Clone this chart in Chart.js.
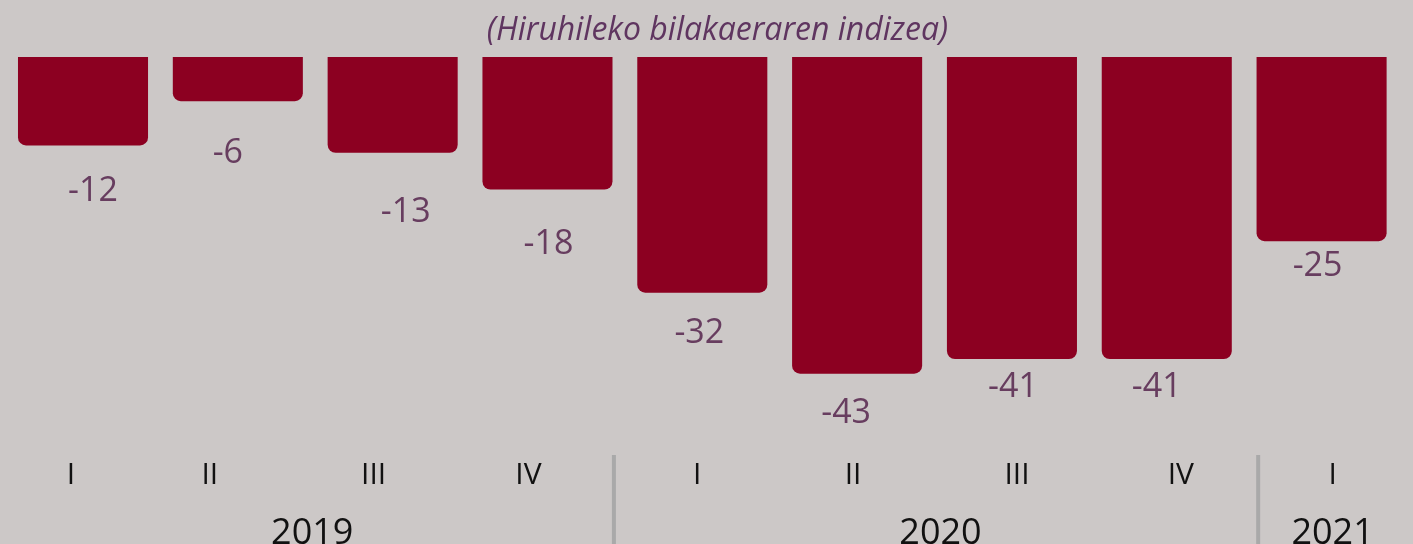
<!DOCTYPE html>
<html>
<head>
<meta charset="utf-8">
<script src="https://cdn.jsdelivr.net/npm/chart.js@4"></script>
<style>
  body { margin: 0; background: #ccc8c7; }
  #wrap { width: 1413px; height: 544px; position: relative; }
</style>
</head>
<body>
<div id="wrap"><canvas id="chart"></canvas></div>
<script>
// Data
const quarters = ['I', 'II', 'III', 'IV', 'I', 'II', 'III', 'IV', 'I'];
const years = ['2019', '2020', '2021'];
const yearOfQuarter = [0, 0, 0, 0, 1, 1, 1, 1, 2];
const values = [-12, -6, -13, -18, -32, -43, -41, -41, -25];
const subtitleText = '(Hiruhileko bilakaeraren indizea)';

// Styling
const barColor = '#8c0021';
const labelColor = '#673d5f';
const subColor = '#5f3560';
const textColor = '#111111';
const sepColor = '#a9a9a9';
const fontFamily = '"Open Sans", sans-serif';

// small hand nudges of the labels, as in the original layout
const valueShiftX = [10, -10, 13, 1, -3, -11, 1, -10, -4];
const valueShiftY = [46, 52, 60, 55, 41, 40, 28, 28, 25];
const quarterShiftX = [-12, -28, -19, -19, -5, -4, 5, 14, 11];
const yearShiftX = [-3, 6, 11];
const sepShiftX = [-11, 14];

// Draw subtitle, value labels, quarter/year labels and year separators
const labelsPlugin = {
    id: 'labels',
    afterDatasetsDraw(chart) {
        const ctx = chart.ctx;
        const meta = chart.getDatasetMeta(0);
        const xs = chart.scales.x;
        ctx.save();
        ctx.textAlign = 'center';
        ctx.textBaseline = 'middle';

        // subtitle
        ctx.fillStyle = subColor;
        ctx.font = 'italic 32px ' + fontFamily;
        ctx.fillText(subtitleText, chart.width / 2 + 11, 31);

        // values
        ctx.fillStyle = labelColor;
        ctx.font = '34px ' + fontFamily;
        meta.data.forEach((bar, i) => {
            ctx.fillText(String(values[i]), bar.x + valueShiftX[i], bar.y + valueShiftY[i]);
        });

        // quarters
        ctx.fillStyle = textColor;
        ctx.font = '30px ' + fontFamily;
        quarters.forEach((q, i) => {
            ctx.fillText(q, xs.getPixelForValue(i) + quarterShiftX[i], 475);
        });

        // years, centered on their quarters
        ctx.font = '36px ' + fontFamily;
        years.forEach((y, k) => {
            const idx = yearOfQuarter.map((v, i) => v === k ? i : -1).filter(i => i >= 0);
            const x0 = xs.getPixelForValue(idx[0]);
            const x1 = xs.getPixelForValue(idx[idx.length - 1]);
            ctx.fillText(y, (x0 + x1) / 2 + yearShiftX[k], 534);
        });

        // separators between years
        ctx.strokeStyle = sepColor;
        ctx.lineWidth = 4;
        let s = 0;
        for (let i = 1; i < yearOfQuarter.length; i++) {
            if (yearOfQuarter[i] !== yearOfQuarter[i - 1]) {
                const x = (xs.getPixelForValue(i - 1) + xs.getPixelForValue(i)) / 2 + sepShiftX[s++];
                ctx.beginPath();
                ctx.moveTo(x, 455);
                ctx.lineTo(x, 544);
                ctx.stroke();
            }
        }
        ctx.restore();
    }
};

new Chart(document.getElementById('chart'), {
    type: 'bar',
    data: {
        labels: quarters.map((q, i) => q + ' ' + years[yearOfQuarter[i]]),
        datasets: [{
            data: values,
            backgroundColor: barColor,
            borderRadius: 8,
            borderSkipped: 'start',
            barPercentage: 0.84,
            categoryPercentage: 1
        }]
    },
    options: {
        responsive: true,
        maintainAspectRatio: false,
        animation: false,
        layout: { padding: { left: 5.6, right: 14, top: 57, bottom: 0 } },
        scales: {
            x: {
                display: true,
                grid: { display: false, drawTicks: false },
                border: { display: false },
                ticks: { display: false },
                afterFit(scale) { scale.height = 104; }
            },
            y: {
                display: false,
                min: -52,
                max: 0
            }
        },
        plugins: {
            legend: { display: false },
            tooltip: { enabled: false }
        }
    },
    plugins: [labelsPlugin]
});
</script>
</body>
</html>
